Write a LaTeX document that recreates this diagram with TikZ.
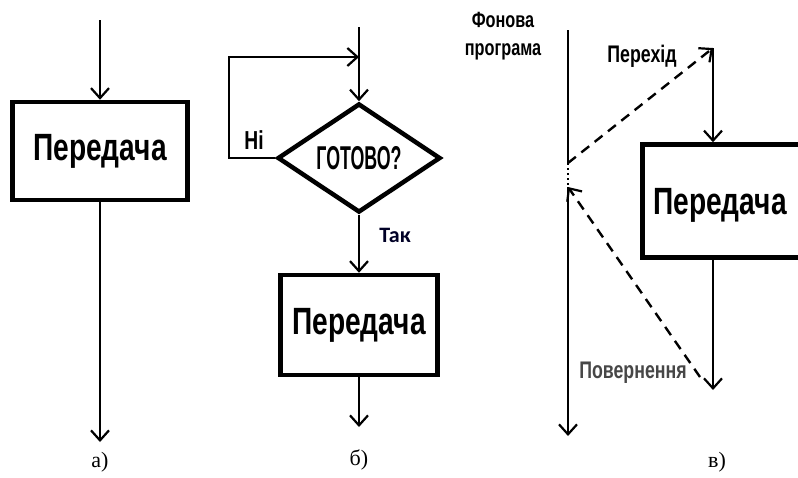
\documentclass[tikz,border=0pt]{standalone}
\usepackage{fontspec}
\setmainfont{Liberation Serif}
\newfontfamily\narrowsans[FakeStretch=0.74]{Liberation Sans}
\newfontfamily\tallsans[FakeStretch=0.54]{Liberation Sans}
\newfontfamily\labelsans{Carlito}
\usetikzlibrary{arrows.meta, shapes.geometric, positioning}

\begin{document}
\begin{tikzpicture}[
  x=1pt, y=-1pt,
  >={Straight Barb[length=10pt,width=18pt,line width=2.2pt]},
  flow/.style={line width=2.4pt},
  jump/.style={line width=2.4pt, dash pattern=on 10pt off 7pt},
  block/.style={draw, line width=4.5pt, font=\narrowsans\bfseries\fontsize{38}{40}\selectfont},
  cond/.style={diamond, draw, line width=4.5pt, inner sep=0pt, minimum width=163pt, minimum height=109pt,
    font=\tallsans\bfseries\fontsize{33}{34}\selectfont},
  tag/.style={font=\narrowsans\bfseries\fontsize{#1}{#1}\selectfont, align=center},
  caption/.style={font=\fontsize{22}{24}\selectfont},
]
\useasboundingbox (0,0) rectangle (798,477);

% a)
\node[block, minimum width=175pt, minimum height=98pt] (sendA) at (100,151) {Передача};
\coordinate (inA) at (100,20);
\coordinate (outA) at (100,442);
\draw[flow,->] (inA) -- (sendA.north);
\draw[flow,->] (sendA.south) -- (outA);
\node[caption] (capA) at (100,462) {а)};

% б)
\coordinate (inB) at (359,27);
\node[cond] (ready) at (359,158) {ГОТОВО?};
\coordinate (loopB) at (229,57);
\coordinate (joinB) at (359,57);
\node[block, minimum width=157pt, minimum height=100pt] (sendB) at (359,325) {Передача};
\coordinate (outB) at (359,427);
\draw[flow,->] (inB) -- (ready.north);
\draw[flow,->] (ready.west) -| (loopB) -- (joinB);
\node[tag=26] (no) at (254,140) {Ні};
\draw[flow,->] (ready.south) -- (sendB.north);
\node[font=\labelsans\bfseries\fontsize{22}{24}\selectfont, text=black!85!blue] (yes) at (395,235) {Так};
\draw[flow,->] (sendB.south) -- (outB);
\node[caption] (capB) at (359,460) {б)};

% в)
\coordinate (mainTop) at (568,30);
\coordinate (mainHi) at (568,163);
\coordinate (mainLo) at (568,187);
\coordinate (mainEnd) at (568,436);
\node[font=\narrowsans\bfseries\fontsize{22}{28}\selectfont, align=center] (bgprog) at (503,36) {Фонова\\програма};
\draw[flow] (mainTop) -- (mainHi);
\draw[line width=2.4pt, dash pattern=on 2pt off 3pt] (mainHi) -- (mainLo);
\draw[flow,->] (mainLo) -- (mainEnd);
\coordinate (jumpC) at (713,48);
\node[block, minimum width=165pt, minimum height=113pt, text depth=0pt] (sendC) at (725,201) {\hspace*{-10pt}Передача};
\coordinate (outC) at (713,390);
\coordinate (backC) at (700,377);
\draw[jump,->] (mainHi) -- (jumpC);
\node[tag=24] (goto) at (642,56) {Перехід};
\draw[flow,->] (jumpC) -- (jumpC |- sendC.north);
\draw[flow,->] (jumpC |- sendC.south) -- (outC);
\draw[jump,->] (backC) -- (mainLo);
\node[tag=24, text=black!72] (ret) at (633,373) {Повернення};
\node[caption] (capC) at (717,462) {в)};
\end{tikzpicture}
\end{document}
